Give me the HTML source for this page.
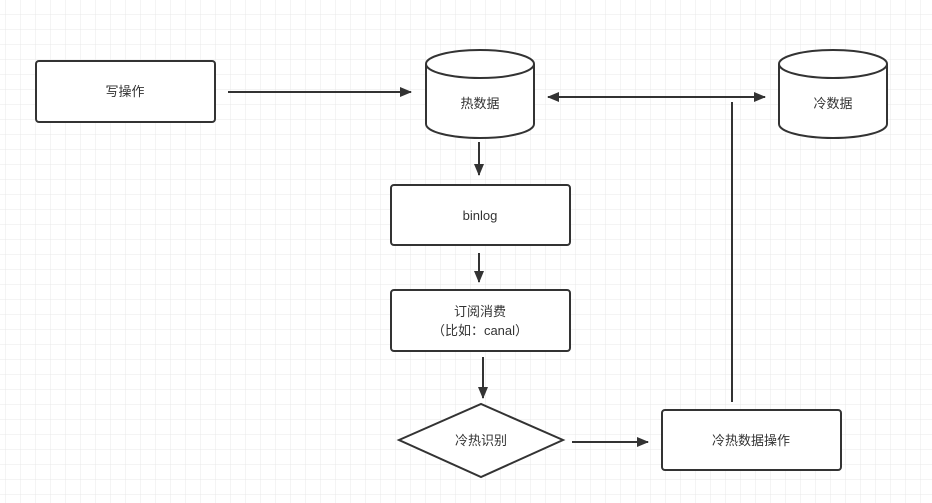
<!DOCTYPE html>
<html><head><meta charset="utf-8"><style>
html,body{margin:0;padding:0;background:#fff;}
svg{display:block;}
text{font-family:"Liberation Sans","Noto Sans CJK SC",sans-serif;font-size:13px;fill:#333;}
</style></head><body>
<svg width="932" height="503" viewBox="0 0 932 503" xmlns="http://www.w3.org/2000/svg">
<defs>
<pattern id="g" width="15" height="15" patternUnits="userSpaceOnUse" x="6" y="0">
<path d="M15 0V15M0 15H15" fill="none" stroke="#e8e8e8" stroke-width="1"/>
</pattern>
<marker id="a" markerWidth="12" markerHeight="10" refX="11" refY="5" orient="auto" markerUnits="userSpaceOnUse">
<path d="M0 0L12 5L0 10Z" fill="#333"/>
</marker>
<marker id="b" markerWidth="12" markerHeight="10" refX="1" refY="5" orient="auto" markerUnits="userSpaceOnUse">
<path d="M12 0L0 5L12 10Z" fill="#333"/>
</marker>
</defs>
<rect width="932" height="503" fill="url(#g)"/>
<g fill="#fff" stroke="#333" stroke-width="2">
<rect x="36" y="61" width="179" height="61" rx="3"/>
<rect x="391" y="185" width="179" height="60" rx="3"/>
<rect x="391" y="290" width="179" height="61" rx="3"/>
<rect x="662" y="410" width="179" height="60" rx="3"/>
<path d="M399 440L481 404L563 440L481 477Z"/>
<path d="M426 64A54 14 0 0 1 534 64V124A54 14 0 0 1 426 124Z"/>
<path d="M426 64A54 14 0 0 0 534 64" fill="none"/>
<path d="M779 64A54 14 0 0 1 887 64V124A54 14 0 0 1 779 124Z"/>
<path d="M779 64A54 14 0 0 0 887 64" fill="none"/>
</g>
<g stroke="#333" stroke-width="2" fill="none">
<line x1="228" y1="92" x2="411" y2="92" marker-end="url(#a)"/>
<line x1="548" y1="97" x2="765" y2="97" marker-start="url(#b)" marker-end="url(#a)"/>
<line x1="479" y1="142" x2="479" y2="175" marker-end="url(#a)"/>
<line x1="479" y1="253" x2="479" y2="282" marker-end="url(#a)"/>
<line x1="483" y1="357" x2="483" y2="398" marker-end="url(#a)"/>
<line x1="572" y1="442" x2="648" y2="442" marker-end="url(#a)"/>
<line x1="732" y1="402" x2="732" y2="102"/>
</g>
<g text-anchor="middle">
<text x="125" y="96">写操作</text>
<text x="480" y="108">热数据</text>
<text x="833" y="108">冷数据</text>
<text x="480" y="220">binlog</text>
<text x="480" y="316">订阅消费</text>
<text x="480" y="335">（比如：canal）</text>
<text x="481" y="445">冷热识别</text>
<text x="751" y="445">冷热数据操作</text>
</g>
</svg>
</body></html>
